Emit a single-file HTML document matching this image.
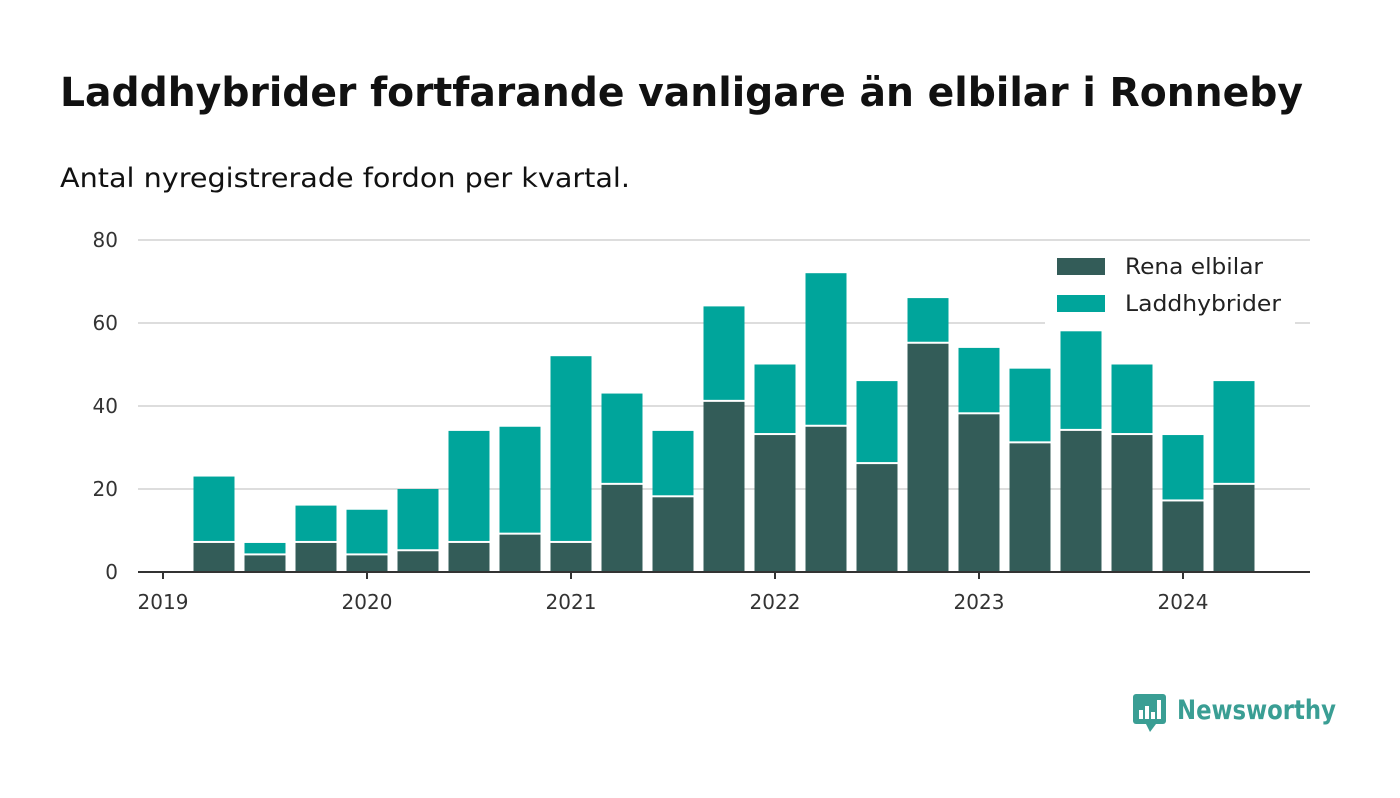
<!DOCTYPE html>
<html><head><meta charset="utf-8"><style>
body{margin:0;background:#fff;width:1400px;height:793px;overflow:hidden;font-family:"Liberation Sans","DejaVu Sans",sans-serif}
svg text{font-family:"DejaVu Sans","Liberation Sans",sans-serif}
</style></head><body>
<svg id="c" width="1400" height="793">
<text x="60" y="106" font-size="40" font-weight="bold" fill="#111" textLength="1243" lengthAdjust="spacingAndGlyphs">Laddhybrider fortfarande vanligare än elbilar i Ronneby</text>
<text x="60" y="187" font-size="27" fill="#111" textLength="570" lengthAdjust="spacingAndGlyphs">Antal nyregistrerade fordon per kvartal.</text>
<g id="grid"></g><g id="bars"></g><g id="axis"></g>
<g>
<rect x="1045" y="245" width="250" height="80" fill="#fff"/>
<rect x="1057" y="258" width="48" height="17" fill="#335c58"/>
<text x="1125" y="274" font-size="22" fill="#222" textLength="138" lengthAdjust="spacingAndGlyphs">Rena elbilar</text>
<rect x="1057" y="295" width="48" height="17" fill="#00a59b"/>
<text x="1125" y="311" font-size="22" fill="#222" textLength="156" lengthAdjust="spacingAndGlyphs">Laddhybrider</text>
</g>
<g>
<rect x="1133" y="694" width="33" height="30" rx="3" fill="#3a9e94"/>
<polygon points="1146,724 1156,724 1150,732" fill="#3a9e94"/>
<rect x="1139" y="710" width="4" height="9" fill="#fff"/><rect x="1145" y="706" width="4" height="13" fill="#fff"/><rect x="1151" y="712" width="4" height="7" fill="#fff"/><rect x="1157" y="700" width="4" height="19" fill="#fff"/>
<text x="1177" y="719" font-size="27" font-weight="bold" fill="#3a9e94" textLength="159" lengthAdjust="spacingAndGlyphs">Newsworthy</text>
</g>
</svg>
<script>
const categories=["2019Q2","2019Q3","2019Q4","2020Q1","2020Q2","2020Q3","2020Q4","2021Q1","2021Q2","2021Q3","2021Q4","2022Q1","2022Q2","2022Q3","2022Q4","2023Q1","2023Q2","2023Q3","2023Q4","2024Q1","2024Q2"];
const elbilar=[7,4,7,4,5,7,9,7,21,18,41,33,35,26,55,38,31,34,33,17,21];
const laddhybrider=[16,3,9,11,15,27,26,45,22,16,23,17,37,20,11,16,18,24,17,16,25];
const yTicks=[0,20,40,60,80];
const xTicks=["2019","2020","2021","2022","2023","2024"];
const NS="http://www.w3.org/2000/svg";
const y0=572,pxPerUnit=(572-240)/80;
const yS=v=>y0-v*pxPerUnit;
const x2019=163,quarterW=(1183-163)/20;
const xQ=i=>x2019+(i+1)*quarterW;
function mk(tag,attrs,parent){const e=document.createElementNS(NS,tag);for(const k in attrs)e.setAttribute(k,attrs[k]);document.getElementById(parent).appendChild(e);return e;}
yTicks.forEach(t=>{
 if(t>0){const l=mk('line',{x1:138,x2:1310,y1:yS(t),y2:yS(t),stroke:'#ddd','stroke-width':2},'grid');
 
 }
 const tx=mk('text',{x:118,y:yS(t)+7,'text-anchor':'end','font-size':20,fill:'#333'},'axis');tx.textContent=t;
 
 
});
categories.forEach((c,i)=>{
 const cx=xQ(i),w=41;
 const a=mk('rect',{x:cx-w/2,y:yS(elbilar[i]),width:w,height:elbilar[i]*pxPerUnit,fill:'#335c58'},'bars');
 
 
 const tot=elbilar[i]+laddhybrider[i];
 const b=mk('rect',{x:cx-w/2,y:yS(tot),width:w,height:laddhybrider[i]*pxPerUnit-2,fill:'#00a59b'},'bars');
 
 
});
const ax=mk('line',{x1:138,x2:1310,y1:y0,y2:y0,stroke:'#333','stroke-width':2},'axis');


xTicks.forEach((t,j)=>{
 const x=x2019+j*4*quarterW;
 mk('line',{x1:x,x2:x,y1:y0,y2:y0+7,stroke:'#333','stroke-width':2},'axis');
 const tx=mk('text',{x:x,y:609,'text-anchor':'middle','font-size':20,fill:'#333'},'axis');tx.textContent=t;
 
 
});
</script>
</body></html>
